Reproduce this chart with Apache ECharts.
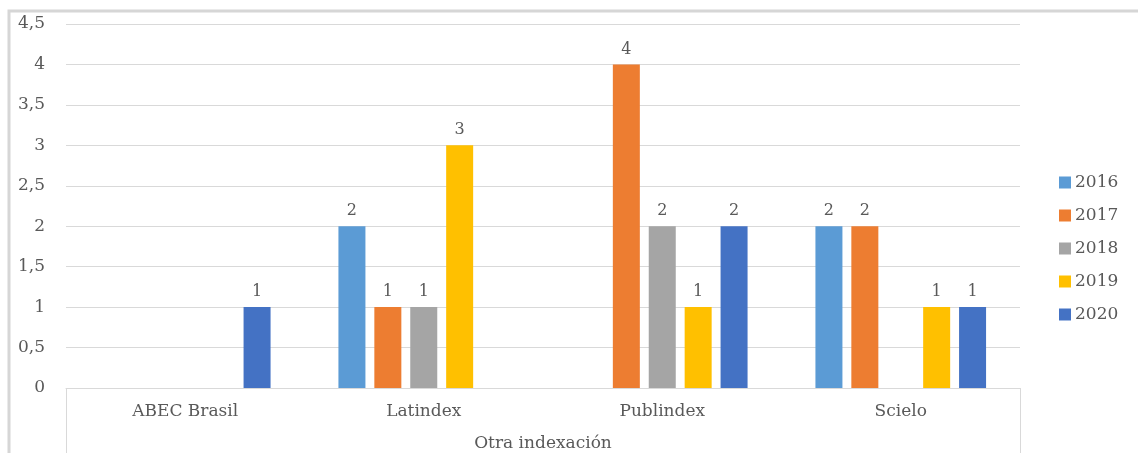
<!DOCTYPE html>
<html>
<head>
<meta charset="utf-8">
<script src="https://cdn.jsdelivr.net/npm/echarts@6/dist/echarts.min.js"></script>
<style>html,body{margin:0;padding:0;background:#fff;}#c{width:1138px;height:453px;}</style>
</head>
<body>
<div id="c"></div>
<script>
const categories = ['ABEC Brasil', 'Latindex', 'Publindex', 'Scielo'];
const years = ['2016', '2017', '2018', '2019', '2020'];
const s2016 = [null, 2, null, 2];
const s2017 = [null, 1, 4, 2];
const s2018 = [null, 1, 2, null];
const s2019 = [null, 3, 1, 1];
const s2020 = [1, null, 2, 1];
const yTicks = [0, 0.5, 1, 1.5, 2, 2.5, 3, 3.5, 4, 4.5];
const axisTitle = 'Otra indexación';

const colors = ['#5B9BD5', '#ED7D31', '#A5A5A5', '#FFC000', '#4472C4'];
const seriesData = [s2016, s2017, s2018, s2019, s2020];
const FONT = 'DejaVu Serif';
const TXT = '#595959';
const G = {left: 66, right: 118, top: 24, bottom: 65};
const W = 1138, H = 453;

const chart = echarts.init(document.getElementById('c'), null, {renderer: 'canvas'});
chart.setOption({
  animation: false,
  color: colors,
  grid: {left: G.left, right: G.right, top: G.top, bottom: G.bottom, containLabel: false, outerBoundsMode: 'none'},
  legend: {
    orient: 'vertical', left: 1059, top: 174, padding: 0,
    itemWidth: 12, itemHeight: 12, itemGap: 16,
    icon: 'rect',
    textStyle: {fontFamily: FONT, fontSize: 17, color: TXT, padding: [0, 0, 0, -1]},
    data: years
  },
  xAxis: {
    type: 'category', data: categories,
    axisLine: {show: true, lineStyle: {color: '#d9d9d9', width: 1}},
    axisTick: {show: false},
    axisLabel: {fontFamily: FONT, fontSize: 17, color: TXT, margin: 15},
    name: axisTitle, nameLocation: 'middle', nameGap: 47,
    nameTextStyle: {fontFamily: FONT, fontSize: 17, color: TXT}
  },
  yAxis: {
    type: 'value', min: yTicks[0], max: yTicks[yTicks.length - 1], interval: 0.5,
    axisLine: {show: false}, axisTick: {show: false},
    splitLine: {lineStyle: {color: '#d9d9d9', width: 1}},
    axisLabel: {fontFamily: FONT, fontSize: 17, color: TXT, margin: 21,
      formatter: v => String(v).replace('.', ',')}
  },
  series: years.map((y, i) => ({
    name: y, type: 'bar', data: seriesData[i],
    barWidth: 27, barGap: '33%',
    label: {show: true, position: 'top', distance: 7, fontFamily: FONT, fontSize: 16, color: TXT}
  })),
  graphic: [
    {type: 'rect', shape: {x: 9, y: 11, width: W + 100, height: H + 100},
     style: {fill: null, stroke: '#d6d6d6', lineWidth: 3}, silent: true},
    {type: 'line', shape: {x1: G.left + 0.5, y1: H - G.bottom, x2: G.left + 0.5, y2: H + 5},
     style: {stroke: '#d9d9d9', lineWidth: 1}, silent: true},
    {type: 'line', shape: {x1: W - G.right + 0.5, y1: H - G.bottom, x2: W - G.right + 0.5, y2: H + 5},
     style: {stroke: '#d9d9d9', lineWidth: 1}, silent: true}
  ]
});
</script>
</body>
</html>
